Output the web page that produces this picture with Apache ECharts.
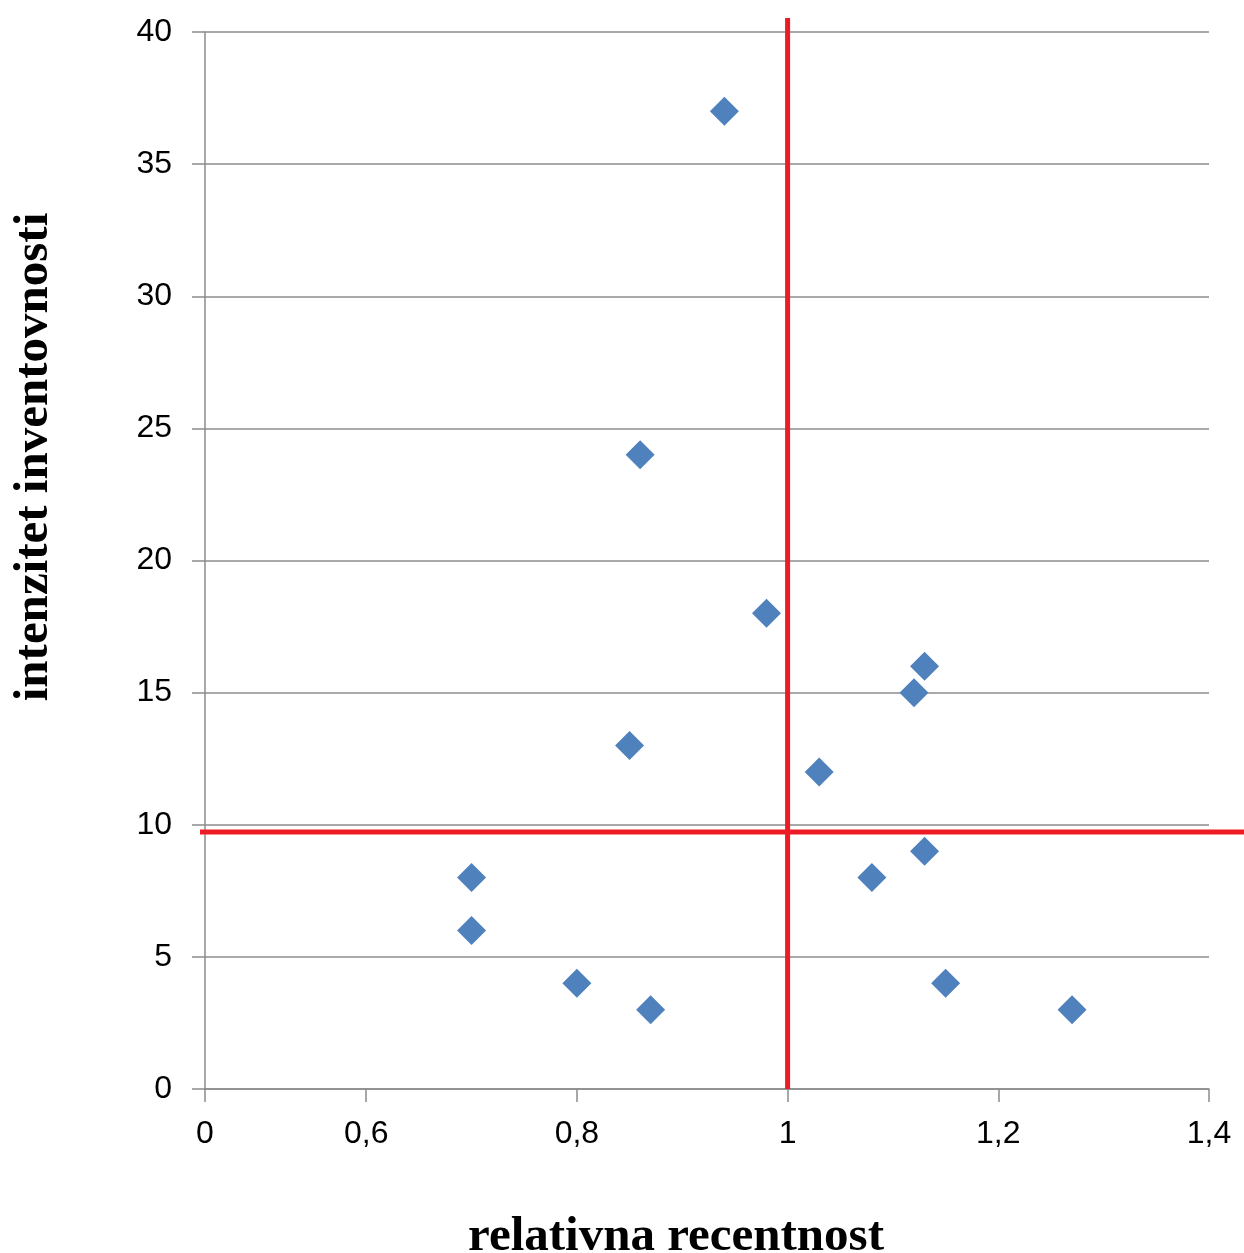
<!DOCTYPE html>
<html>
<head>
<meta charset="utf-8">
<script src="https://cdn.jsdelivr.net/npm/echarts@6/dist/echarts.min.js"></script>
<style>
  html, body { margin: 0; padding: 0; background: #fff; }
  #chart { width: 1244px; height: 1253px; }
</style>
</head>
<body>
<div id="chart"></div>
<script>
// relativna recentnost (x) / intenzitet inventovnosti (y)
var recentnost = [0.94, 0.86, 0.98, 1.13, 1.12, 0.85, 1.03, 1.13, 1.08, 0.7, 0.7, 0.8, 0.87, 1.15, 1.27];
var intenzitet = [37, 24, 18, 16, 15, 13, 12, 9, 8, 8, 6, 4, 3, 4, 3];
// the x axis starts with a "0" label that sits closer than the others (broken axis)
var xStart = 0.447;
var xTicks = [xStart, 0.6, 0.8, 1, 1.2, 1.4];
var xLabels = ["0", "0,6", "0,8", "1", "1,2", "1,4"];
var yTicks = [0, 5, 10, 15, 20, 25, 30, 35, 40];
// red separator lines
var granicaX = 1;
var granicaY = 9.73;

var points = [];
for (var i = 0; i < recentnost.length; i++) {
  points.push([recentnost[i], intenzitet[i]]);
}

var myChart = echarts.init(document.getElementById("chart"));
var gray = "#8c8c8c";
var labelFont = "'Liberation Sans', Arial, sans-serif";
var nameFont = "bold 49px 'Liberation Serif', 'Times New Roman', serif";

var option = {
  animation: false,
  grid: { left: 205, right: 35, top: 32, bottom: 164 },
  xAxis: {
    type: "value",
    min: xStart,
    max: 1.4,
    axisLine: { show: true, lineStyle: { color: gray, width: 1.5 } },
    axisTick: { show: true, length: 13, customValues: xTicks, lineStyle: { color: gray, width: 1.5 } },
    axisLabel: {
      customValues: xTicks,
      margin: 29,
      fontSize: 32,
      fontFamily: labelFont,
      color: "#000",
      formatter: function (v) {
        var idx = xTicks.indexOf(v);
        return idx >= 0 ? xLabels[idx] : "";
      }
    },
    splitLine: { show: false }
  },
  yAxis: {
    type: "value",
    min: yTicks[0],
    max: yTicks[yTicks.length - 1],
    interval: 5,
    axisLine: { show: true, lineStyle: { color: gray, width: 1.5 } },
    axisTick: { show: true, length: 13, lineStyle: { color: gray, width: 1.5 } },
    axisLabel: { margin: 33, fontSize: 32, fontFamily: labelFont, color: "#000" },
    splitLine: { show: true, lineStyle: { color: gray, width: 1.5 } }
  },
  series: [
    {
      type: "scatter",
      symbol: "diamond",
      symbolSize: 29,
      itemStyle: { color: "#4f81bd", opacity: 1 },
      data: points
    }
  ]
};

myChart.setOption(option);

// red lines extend a bit past the plot area, so draw them as graphics
var px = myChart.convertToPixel({ gridIndex: 0 }, [granicaX, granicaY]);
var topLeft = myChart.convertToPixel({ gridIndex: 0 }, [xStart, yTicks[yTicks.length - 1]]);
var bottom = myChart.convertToPixel({ gridIndex: 0 }, [xStart, 0]);
var red = "#ed1c24";

myChart.setOption({
  graphic: [
    {
      type: "line",
      shape: { x1: px[0], y1: topLeft[1] - 14, x2: px[0], y2: bottom[1] },
      style: { stroke: red, lineWidth: 5 },
      z: 100
    },
    {
      type: "line",
      shape: { x1: topLeft[0] - 5, y1: px[1], x2: 1244, y2: px[1] },
      style: { stroke: red, lineWidth: 5 },
      z: 100
    },
    {
      type: "text",
      x: 676,
      y: 1237,
      style: {
        text: "relativna recentnost",
        font: nameFont,
        fill: "#000",
        textAlign: "center",
        textVerticalAlign: "middle"
      }
    },
    {
      type: "text",
      x: 34,
      y: 457,
      rotation: Math.PI / 2,
      style: {
        text: "intenzitet inventovnosti",
        font: nameFont,
        fill: "#000",
        textAlign: "center",
        textVerticalAlign: "middle"
      }
    }
  ]
});
</script>
</body>
</html>
